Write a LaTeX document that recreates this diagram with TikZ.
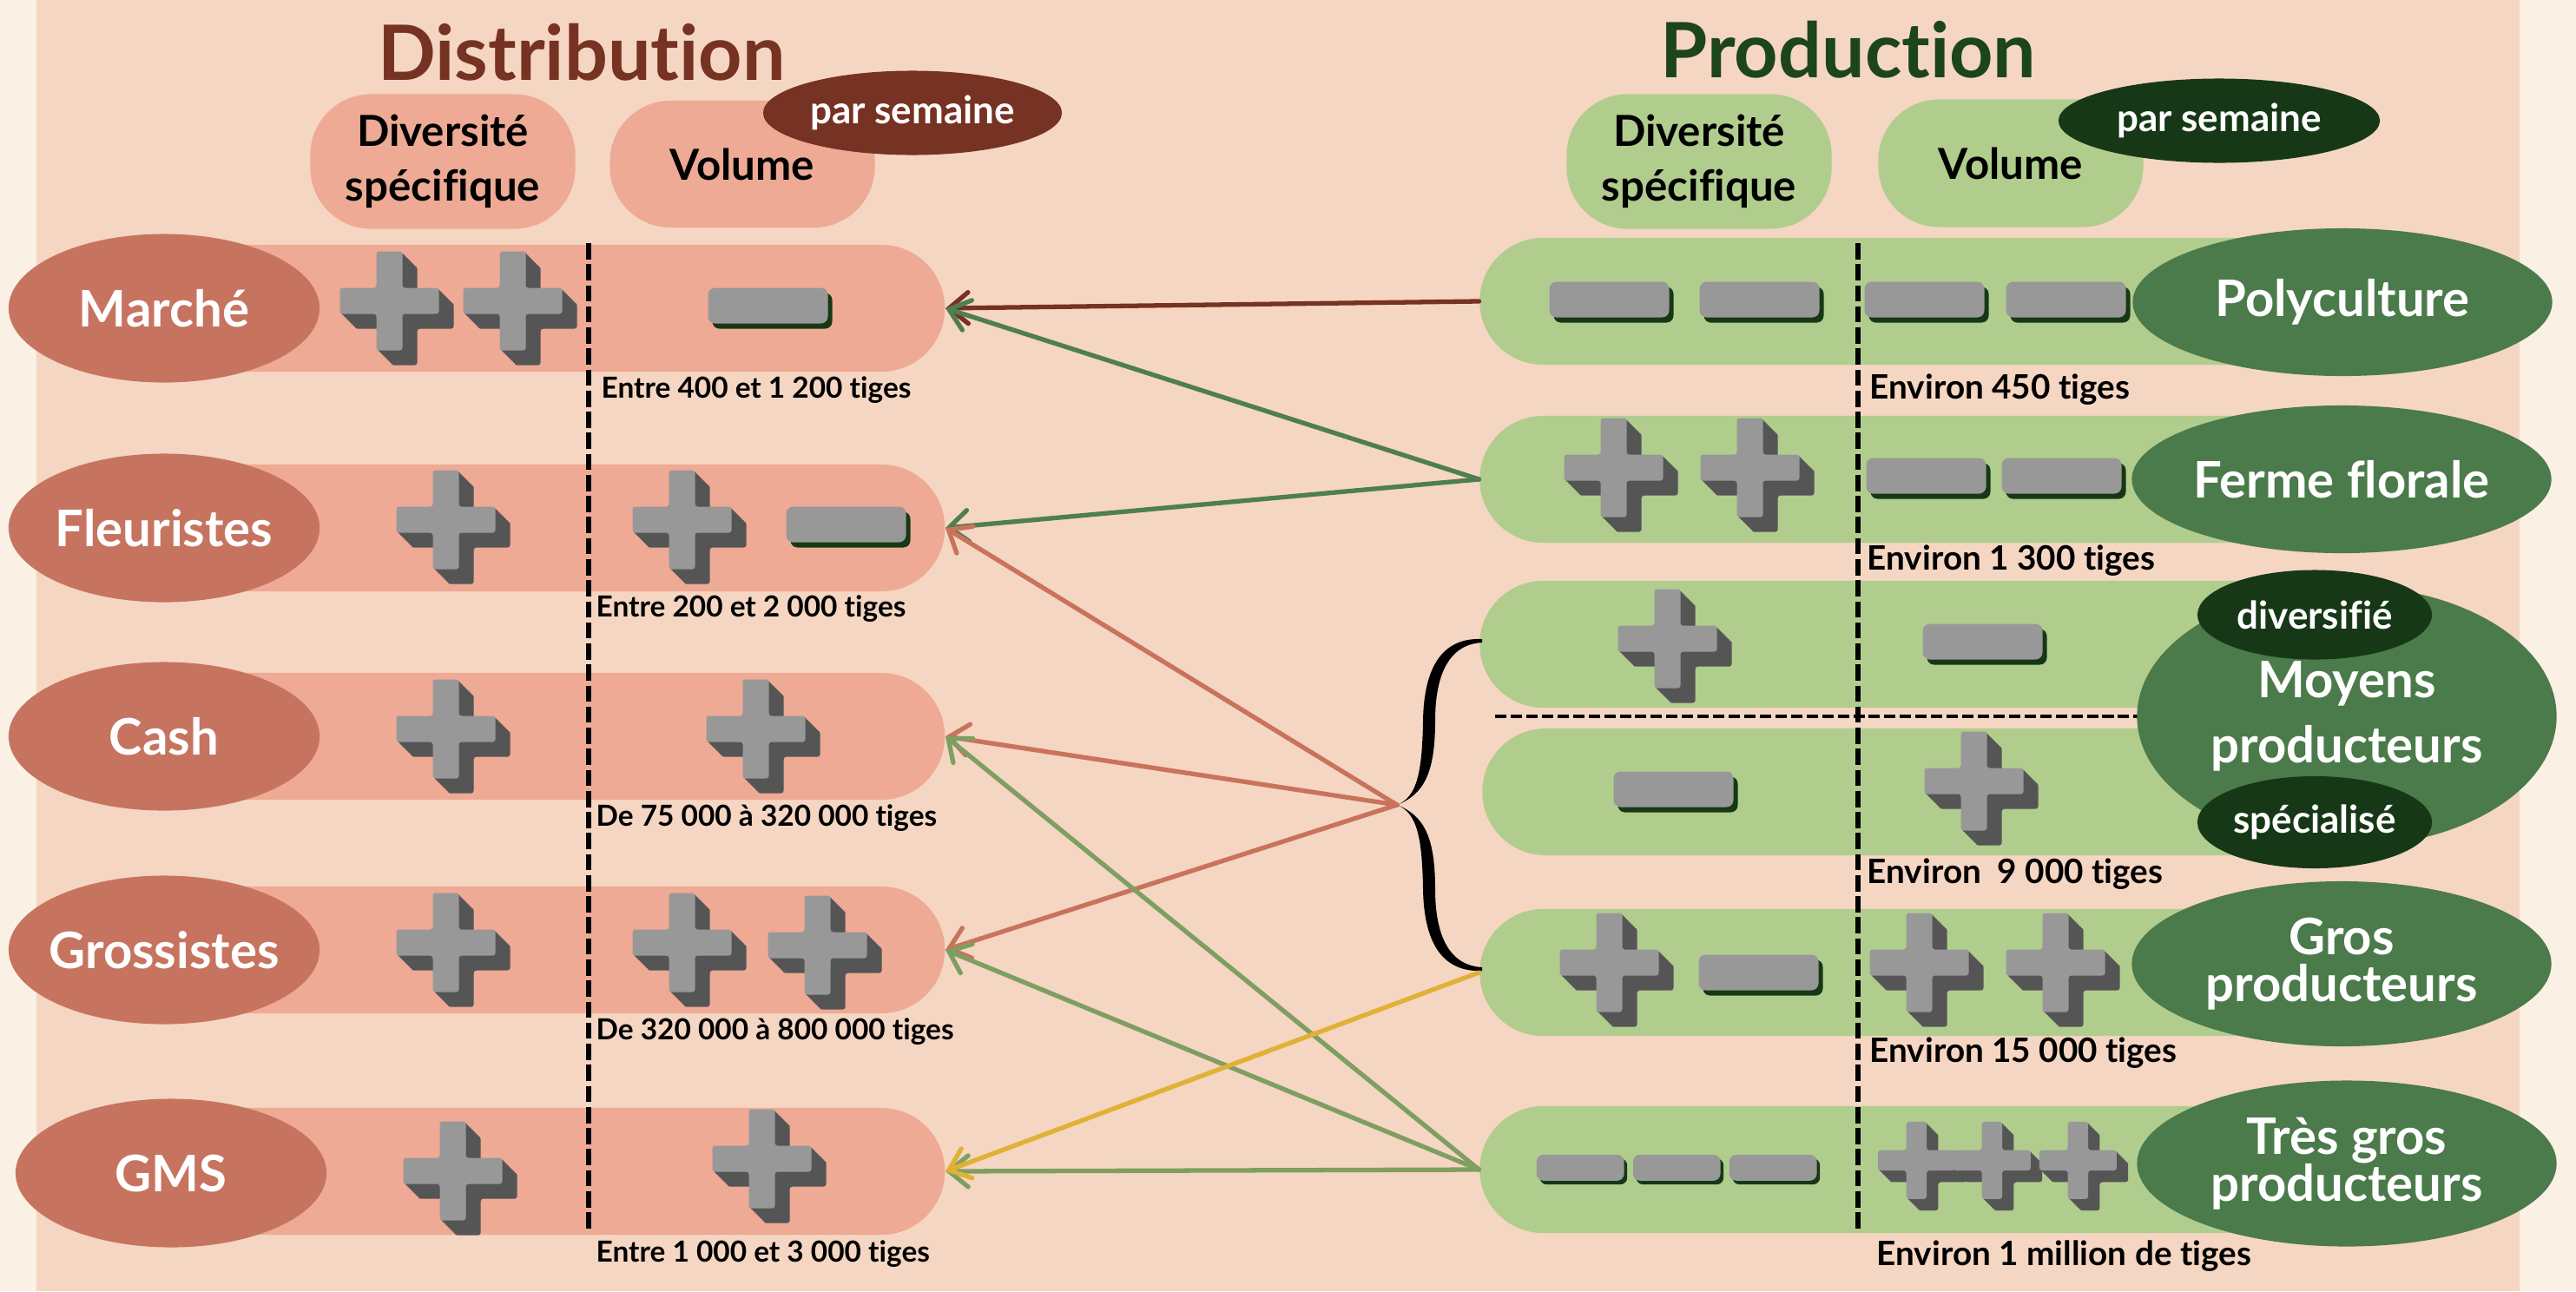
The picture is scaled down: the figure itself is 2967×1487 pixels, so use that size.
\documentclass[tikz,border=0pt]{standalone}
\usepackage{fontspec}
\setmainfont{Lato}[Ligatures=NoCommon]
\usepackage{tikz}
\usetikzlibrary{arrows.meta,shapes.geometric}
\usepackage{xcolor}

\definecolor{cream}{HTML}{FAF0E4}
\definecolor{peach}{HTML}{F5D6C2}
\definecolor{salmon}{HTML}{EEAA94}
\definecolor{terracotta}{HTML}{C67460}
\definecolor{rust}{HTML}{763222}
\definecolor{sage}{HTML}{B1CD8D}
\definecolor{fern}{HTML}{4B7A4B}
\definecolor{forest}{HTML}{163816}
\definecolor{pine}{HTML}{1C451B}
\definecolor{greytop}{HTML}{989898}
\definecolor{greyside}{HTML}{555555}
\definecolor{ochre}{HTML}{E0B134}
\definecolor{moss}{HTML}{7F9E62}
\definecolor{leaf}{HTML}{4F7E50}
\definecolor{brick}{HTML}{C9735C}

\newcommand{\fTitle}{\fontsize{25}{30}\selectfont\bfseries}
\newcommand{\fHead}{\fontsize{14}{18}\selectfont\bfseries}
\newcommand{\fRow}{\fontsize{16.5}{19}\selectfont\bfseries}
\newcommand{\fRowTight}{\fontsize{16.5}{15.5}\selectfont\bfseries}
\newcommand{\fRowWide}{\fontsize{16.5}{21.5}\selectfont\bfseries}
\newcommand{\fTag}{\fontsize{12.5}{15}\selectfont\bfseries}
\newcommand{\fStem}{\fontsize{9.5}{11}\selectfont\bfseries}
\newcommand{\fStemR}{\fontsize{11}{13}\selectfont\bfseries}

\newcommand{\plusoutline}{(-15,-57) -- (15,-57) -- (15,-15) -- (57,-15) -- (57,15) -- (15,15)
  -- (15,57) -- (-15,57) -- (-15,15) -- (-57,15) -- (-57,-15) -- (-15,-15) -- cycle}

\tikzset{
  plus block/.pic={
    \foreach \k in {1,...,9}
      \fill[greyside, rounded corners=0.3mm, shift={(1.9*\k-8.5,1.9*\k-8.5)}] \plusoutline;
    \fill[greytop, rounded corners=0.3mm, shift={(-8.5,-8.5)}] \plusoutline;
  },
  minus block/.pic={
    \fill[forest, rounded corners=0.8mm] (-66.5,-17.5) rectangle (71.5,23.5);
    \fill[greytop, rounded corners=0.8mm] (-71.5,-23.5) rectangle (66.5,17.5);
  },
  dist pill/.style={rectangle, fill=salmon, rounded corners=0.73cm,
    minimum width=8.88cm, minimum height=1.46cm, inner sep=0pt},
  prod pill/.style={dist pill, fill=sage, minimum width=9.95cm},
  dist head/.style={rectangle, fill=salmon, rounded corners=0.7cm, minimum width=3.05cm,
    minimum height=1.55cm, inner sep=0pt, align=center, font=\fHead},
  prod head/.style={dist head, fill=sage},
  dist tag/.style={ellipse, fill=rust, text=white, minimum width=3.44cm,
    minimum height=0.97cm, inner sep=0pt, font=\fTag},
  prod tag/.style={dist tag, fill=forest, minimum width=3.7cm},
  dist ellipse/.style={ellipse, fill=terracotta, text=white, minimum width=3.58cm,
    minimum height=1.71cm, inner ysep=0pt, inner xsep=-0.3cm, font=\fRow},
  prod ellipse/.style={ellipse, fill=fern, text=white, minimum width=4.83cm,
    minimum height=1.7cm, inner sep=0pt, align=center, font=\fRow},
  dist stem/.style={anchor=base west, inner sep=0pt, font=\fStem},
  prod stem/.style={dist stem, font=\fStemR},
  col rule/.style={line width=1.5pt, dash pattern=on 5.3pt off 1.6pt},
  split rule/.style={line width=1.3pt, dash pattern=on 3.7pt off 1.4pt},
  flow/.style={line width=1.5pt, line cap=round,
    -{Straight Barb[length=2.2mm,width=3.6mm,line cap=round]}}
}

\begin{document}
\begin{tikzpicture}[x=0.01cm, y=-0.01cm]
\useasboundingbox (0,0) rectangle (2967,1487);
\fill[cream] (0,0) rectangle (2967,1487);
\fill[peach] (42,0) rectangle (2902,1487);

% titles and column heads
\node[font=\fTitle, text=rust] (disttitle) at (670,60) {Distribution};
\node[font=\fTitle, text=pine] (prodtitle) at (2129,57) {Production};

\node[dist head] (distdiv) at (510,186) {Diversité\\spécifique};
\node[dist head, minimum height=1.46cm] (distvol) at (855,189) {Volume};
\node[dist tag] (distweek) at (1051,130) {par semaine};
\node[prod head] (proddiv) at (1957,186) {Diversité\\spécifique};
\node[prod head, minimum height=1.47cm] (prodvol) at (2316,188) {Volume};
\node[prod tag] (prodweek) at (2556,139) {par semaine};

% distribution
\node[dist pill] (marchepill) at (644,355) {};
\node[dist pill] (fleurpill) at (644,608) {};
\node[dist pill] (cashpill) at (644,848) {};
\node[dist pill] (grossistepill) at (644,1094) {};
\node[dist pill] (gmspill) at (644,1349) {};
\draw[col rule] (678,280) -- (678,1420);

\node[dist ellipse] (marche) at (189,355) {Marché};
\node[dist ellipse] (fleur) at (189,608) {Fleuristes};
\node[dist ellipse] (cash) at (189,848) {Cash};
\node[dist ellipse] (grossiste) at (189,1094) {Grossistes};
\node[dist ellipse] (gms) at (197,1351) {GMS};

\pic at (457,355) {plus block};
\pic at (599,355) {plus block};
\pic at (887,355) {minus block};
\pic at (522,607) {plus block};
\pic at (794,607) {plus block};
\pic at (977,607) {minus block};
\pic at (522,848) {plus block};
\pic at (879,848) {plus block};
\pic at (522,1094) {plus block};
\pic at (794,1094) {plus block};
\pic at (950,1097) {plus block};
\pic at (530,1357) {plus block};
\pic at (886,1343) {plus block};

\node[dist stem] (marchevol) at (692,458) {Entre 400 et 1 200 tiges};
\node[dist stem] (fleurvol) at (686,710) {Entre 200 et 2 000 tiges};
\node[dist stem] (cashvol) at (686,951) {De 75 000 à 320 000 tiges};
\node[dist stem] (grossistevol) at (686,1197) {De 320 000 à 800 000 tiges};
\node[dist stem] (gmsvol) at (686,1453) {Entre 1 000 et 3 000 tiges};

% production
\node[prod pill] (polypill) at (2202,347) {};
\node[prod pill] (fermepill) at (2202,552) {};
\node[prod pill] (moyhautpill) at (2202,742) {};
\node[prod pill] (moybaspill) at (2205,912) {};
\node[prod pill] (grosprodpill) at (2202,1120) {};
\node[prod pill] (tresgrospill) at (2202,1347) {};
\draw[col rule] (2140,280) -- (2140,1420);
\draw[split rule] (1722,825) -- (2470,825);

\node[prod ellipse] (poly) at (2698,348) {Polyculture};
\node[prod ellipse] (ferme) at (2697,552) {Ferme florale};
\node[prod ellipse, minimum height=3cm, font=\fRowWide] (moyens) at (2703,825) {Moyens\\producteurs};
\node[prod tag, minimum width=2.7cm, minimum height=1.03cm] (diversifie) at (2666,708) {diversifié};
\node[prod tag, minimum width=2.7cm, minimum height=1.06cm] (specialise) at (2666,947) {spécialisé};
\node[prod ellipse, minimum height=1.9cm, font=\fRowTight] (grosprod) at (2697,1110) {Gros\\producteurs};
\node[prod ellipse, minimum height=1.91cm, font=\fRowTight] (tresgros) at (2703,1340) {Très gros\\producteurs};

\pic at (1856,348) {minus block};
\pic at (2029,348) {minus block};
\pic at (2219,348) {minus block};
\pic at (2382,348) {minus block};
\pic at (1867,547) {plus block};
\pic at (2024,547) {plus block};
\pic at (2221,551) {minus block};
\pic at (2377,551) {minus block};
\pic at (1929,744) {plus block};
\pic at (2286,742) {minus block};
\pic at (1930,912) {minus block};
\pic at (2282,908) {plus block};
\pic at (1862,1117) {plus block};
\pic at (2028,1123) {minus block};
\pic at (2219,1117) {plus block};
\pic at (2376,1117) {plus block};
\pic[scale=0.73] at (1822,1347) {minus block};
\pic[scale=0.73] at (1933,1347) {minus block};
\pic[scale=0.73] at (2044,1347) {minus block};
\pic[scale=0.78] at (2214,1343) {plus block};
\pic[scale=0.78] at (2301,1343) {plus block};
\pic[scale=0.78] at (2400,1343) {plus block};

\node[prod stem] (polyvol) at (2153,459) {Environ 450 tiges};
\node[prod stem] (fermevol) at (2150,656) {Environ 1 300 tiges};
\node[prod stem] (moyvol) at (2150,1017) {Environ\ \ 9 000 tiges};
\node[prod stem] (grosvol) at (2153,1223) {Environ 15 000 tiges};
\node[prod stem] (tresgrosvol) at (2161,1457) {Environ 1 million de tiges};

% brace over moyens + gros
\coordinate (bracetip) at (1609,927);
\fill[black] (1707,736) .. controls (1660,734) and (1640,770) .. (1639,830)
  .. controls (1638,890) and (1632,918) .. (bracetip)
  .. controls (1640,915) and (1653,890) .. (1653,830)
  .. controls (1653,775) and (1670,742) .. (1707,740) -- cycle;
\fill[black] (1707,1118) .. controls (1660,1120) and (1640,1084) .. (1639,1024)
  .. controls (1638,964) and (1632,936) .. (bracetip)
  .. controls (1640,939) and (1653,964) .. (1653,1024)
  .. controls (1653,1079) and (1670,1112) .. (1707,1114) -- cycle;

% flows
\draw[flow, rust] (polypill.west) -- (marchepill.east);
\draw[flow, leaf] (fermepill.west) -- (marchepill.east);
\draw[flow, leaf] (fermepill.west) -- (fleurpill.east);
\draw[flow, brick] (bracetip) -- (fleurpill.east);
\draw[flow, brick] (bracetip) -- (cashpill.east);
\draw[flow, brick] (bracetip) -- (grossistepill.east);
\draw[flow, moss] (tresgrospill.west) -- (cashpill.east);
\draw[flow, moss] (tresgrospill.west) -- (grossistepill.east);
\draw[flow, moss] (tresgrospill.west) -- (gmspill.east);
\draw[flow, ochre] (grosprodpill.west) -- (gmspill.east);
\end{tikzpicture}
\end{document}
